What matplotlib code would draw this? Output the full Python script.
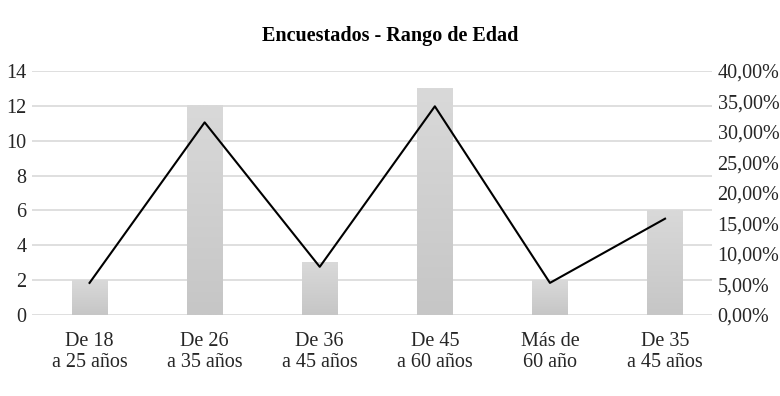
import numpy as np
import matplotlib.pyplot as plt
from matplotlib.ticker import FuncFormatter
from matplotlib.colors import LinearSegmentedColormap

# Survey data
categories = ["De 18\na 25 años", "De 26\na 35 años", "De 36\na 45 años",
              "De 45\na 60 años", "Más de\n60 año", "De 35\na 45 años"]
counts = [2, 12, 3, 13, 2, 6]
shares = [c / sum(counts) for c in counts]

plt.rcParams['font.family'] = ['Liberation Serif', 'DejaVu Serif']

fig = plt.figure(figsize=(7.8, 3.96), dpi=100)
ax = fig.add_axes([32 / 780, 81 / 396, 680 / 780, 244 / 396])
ax2 = ax.twinx()

x = np.arange(len(categories))
bars = ax.bar(x, counts, width=0.31, color='none', zorder=2)

# Vertical grey gradient inside each bar
grad = np.linspace(0, 1, 100).reshape(-1, 1)
cmap = LinearSegmentedColormap.from_list('g', ['#c6c6c6', '#d9d9d9'])
for b in bars:
    x0, y0 = b.get_x(), b.get_y()
    ax.imshow(grad, extent=[x0, x0 + b.get_width(), y0, y0 + b.get_height()],
              origin='lower', aspect='auto', cmap=cmap, zorder=2)

ax.set_xlim(-0.5, 5.408)
ax.set_ylim(0, 14)
ax.set_yticks(range(0, 15, 2))
ax.grid(axis='y', color='#d9d9d9', linewidth=1.2, zorder=0)
ax.set_axisbelow(True)
ax.set_xticks(x)
ax.set_xticklabels(categories, fontsize=14.5, linespacing=1.2)

ax2.plot(x, shares, color='black', linewidth=1.5, zorder=3)
ax2.set_ylim(0, 0.4)
ax2.set_yticks(np.arange(0, 0.41, 0.05))
ax2.yaxis.set_major_formatter(FuncFormatter(lambda v, p: f"{v * 100:.2f}".replace('.', ',') + '%'))

for a in (ax, ax2):
    for s in a.spines.values():
        s.set_visible(False)
    a.tick_params(length=0, labelsize=14.5, colors='#262626')
ax.tick_params(axis='y', pad=4)
ax.tick_params(axis='x', pad=12)
ax2.tick_params(axis='y', pad=4)

fig.suptitle('Encuestados - Rango de Edad', fontsize=14.5, fontweight='bold', y=0.935)

fig.savefig('out.png', dpi=100)
